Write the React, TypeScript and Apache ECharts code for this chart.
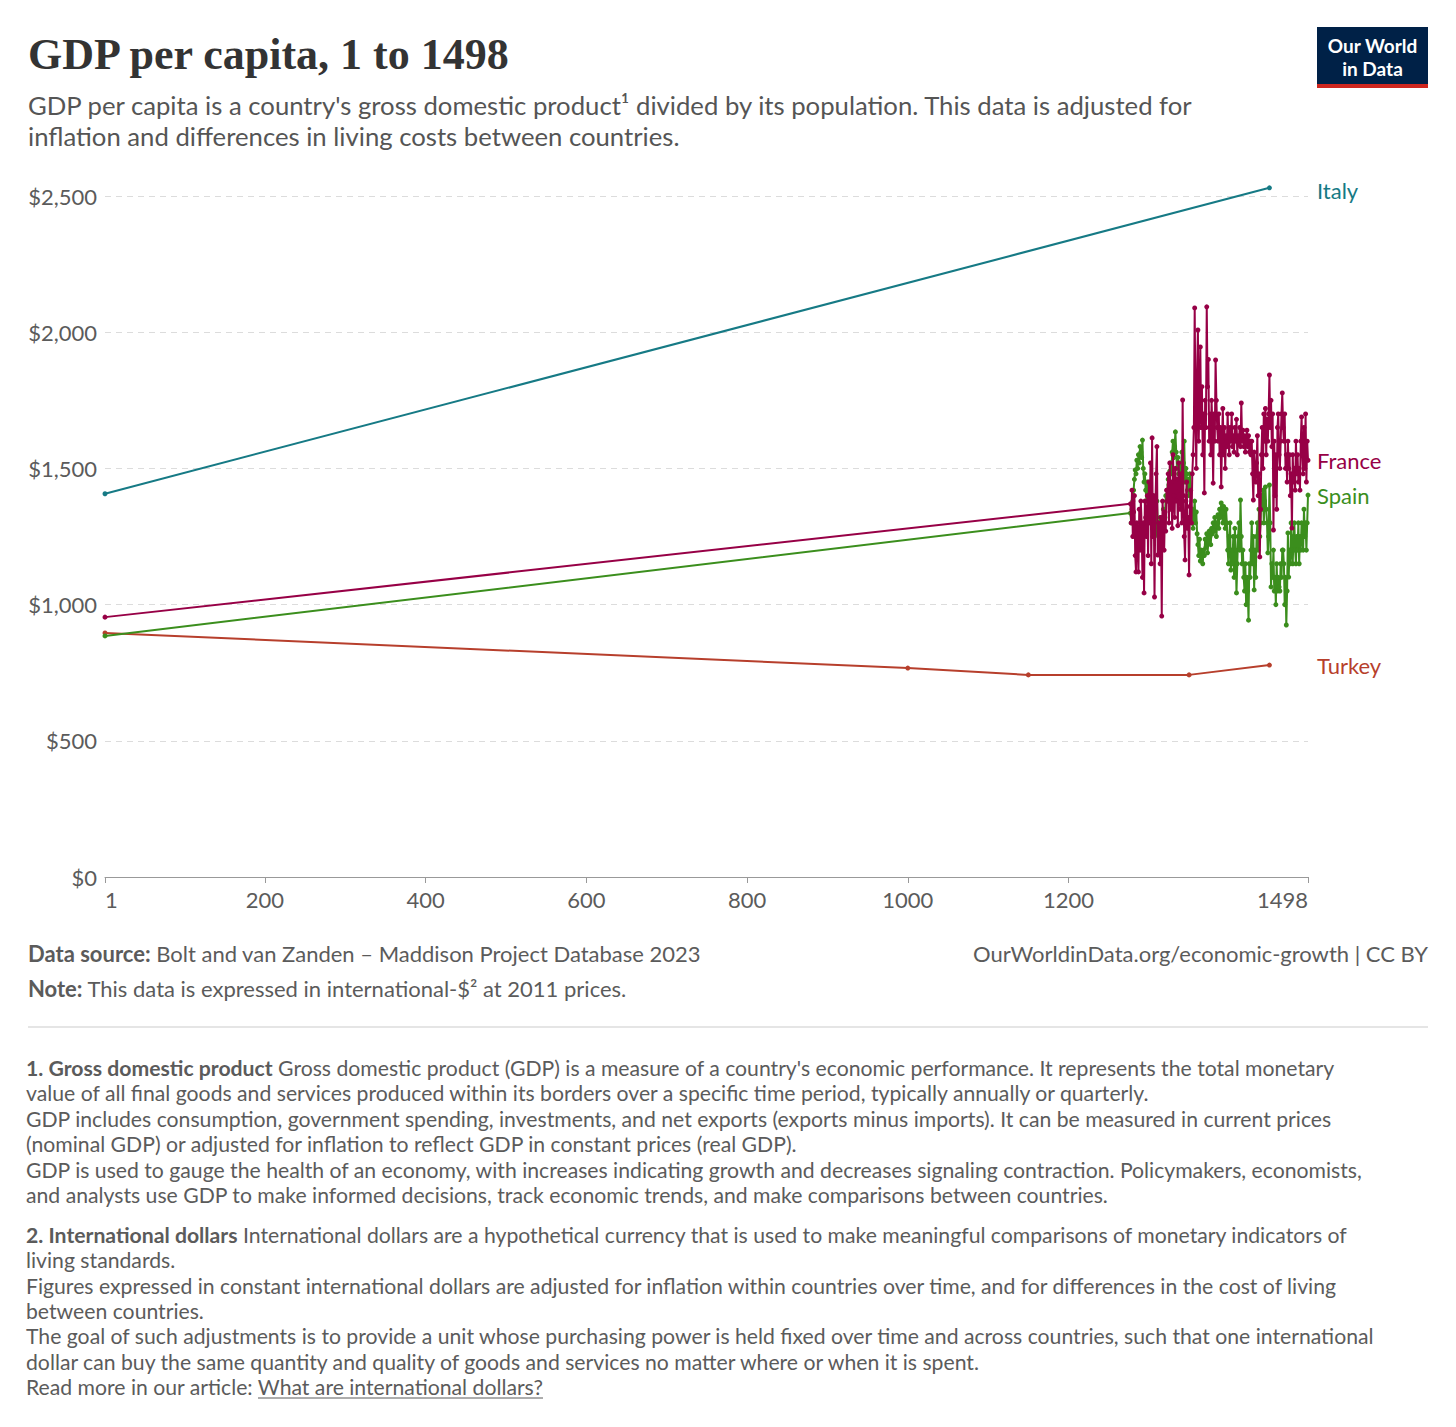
import React, { useEffect, useRef } from "react";
import * as echarts from "echarts";

const X_TICKS = [1, 200, 400, 600, 800, 1000, 1200, 1498];

const ITALY_YEARS = [1, 1450];
const ITALY_GDP = [1407, 2530];

const TURKEY_YEARS = [1, 1000, 1150, 1350, 1450];
const TURKEY_GDP = [896, 767, 742, 742, 778];

const FRANCE_YEAR1 = 954;
const SPAIN_YEAR1 = 885;
const ANNUAL_START = 1277;

const FRANCE_ANNUAL = [
  1370, 1300, 1420, 1250, 1340, 1400, 1180, 1120, 1300, 1260,
  1120, 1350, 1200, 1380, 1290, 1100, 1300, 1043, 1380, 1320,
  1250, 1400, 1180, 1450, 1300, 1520, 1150, 1612, 1250, 1400,
  1028, 1350, 1480, 1580, 1182, 1300, 1250, 1150, 1320, 958,
  1380, 1310, 1200, 1340, 1270, 1420, 1380, 1480, 1300, 1520,
  1350, 1450, 1280, 1550, 1400, 1320, 1500, 1380, 1460, 1290,
  1520, 1420, 1350, 1480, 1300, 1751, 1400, 1250, 1164, 1380,
  1450, 1280, 1320, 1109, 1360, 1420, 1300, 1480, 1550, 1650,
  2089, 1700, 1500, 1850, 2008, 1600, 1750, 1946, 1650, 1800,
  1550, 1700, 1410, 1750, 1650, 2093, 1800, 1900, 1600, 1700,
  1550, 1750, 1650, 1446, 1700, 1600, 1898, 1750, 1650, 1600,
  1700, 1550, 1650, 1432, 1600, 1720, 1550, 1650, 1500, 1620,
  1580, 1700, 1600, 1550, 1650, 1600, 1700, 1580, 1620, 1560,
  1650, 1600, 1680, 1550, 1620, 1590, 1650, 1580, 1740, 1600,
  1640, 1580, 1620, 1560, 1600, 1640, 1580, 1620, 1560, 1600,
  1550, 1600, 1480, 1384, 1560, 1500, 1450, 1520, 1620, 1400,
  1480, 1175, 1350, 1550, 1650, 1500, 1700, 1600, 1720, 1550,
  1680, 1600, 1700, 1843, 1650, 1750, 1580, 1700, 1274, 1600,
  1400, 1550, 1350, 1650, 1700, 1550, 1500, 1600, 1700, 1777,
  1650, 1600, 1700, 1500, 1550, 1450, 1600, 1500, 1550, 1400,
  1480, 1281, 1550, 1450, 1500, 1420, 1600, 1480, 1550, 1450,
  1500, 1420, 1600, 1689, 1550, 1480, 1650, 1500, 1700, 1450,
  1600, 1530,
];

const SPAIN_ANNUAL = [
  1336, 1300, 1350, 1380, 1420, 1460, 1494, 1480, 1530, 1500,
  1550, 1520, 1580, 1560, 1540, 1604, 1500, 1450, 1480, 1420,
  1380, 1450, 1400, 1350, 1420, 1380, 1320, 1350, 1300, 1280,
  1330, 1300, 1260, 1380, 1300, 1250, 1280, 1320, 1250, 1300,
  1280, 1350, 1300, 1320, 1400, 1380, 1420, 1460, 1440, 1490,
  1520, 1480, 1560, 1600, 1540, 1580, 1634, 1560, 1500, 1540,
  1480, 1520, 1460, 1500, 1560, 1480, 1520, 1600, 1450, 1500,
  1480, 1420, 1460, 1400, 1480, 1420, 1300, 1350, 1280, 1336,
  1380, 1300, 1340, 1260, 1220, 1180, 1240, 1160, 1200, 1175,
  1150, 1200, 1180, 1240, 1210, 1260, 1190, 1230, 1270, 1250,
  1220, 1280, 1260, 1300, 1270, 1320, 1290, 1250, 1300, 1330,
  1280, 1350, 1320, 1373, 1340, 1300, 1360, 1320, 1280, 1350,
  1300, 1200, 1150, 1250, 1300, 1127, 1200, 1150, 1250, 1100,
  1280, 1200, 1043, 1150, 1250, 1300, 1200, 1384, 1250, 1150,
  1200, 1100, 1050, 1150, 1000, 1100, 1050, 943, 1150, 1100,
  1200, 1300, 1150, 1250, 1054, 1200, 1100, 1250, 1300, 1200,
  1350, 1250, 1300, 1400, 1350, 1420, 1300, 1380, 1432, 1350,
  1300, 1190, 1250, 1439, 1300, 1065, 1150, 1100, 1200, 1050,
  1100, 1000, 1150, 1050, 1100, 1065, 1050, 1150, 1100, 1200,
  1200, 1150, 1000, 1100, 925, 1050, 1263, 1101, 1200, 1150,
  1300, 1200, 1150, 1250, 1300, 1200, 1150, 1250, 1200, 1300,
  1150, 1250, 1200, 1300, 1250, 1200, 1350, 1250, 1300, 1200,
  1300, 1402,
];

const COLORS = {
  Italy: "#167a85",
  France: "#970046",
  Spain: "#3b8e1d",
  Turkey: "#b73f2c",
};

const FONT = 'Lato, "Noto Sans", sans-serif';
const TEXT_GREY = "#5b5b5b";

const FOOTNOTES_1 = [
  "{b|1. Gross domestic product} Gross domestic product (GDP) is a measure of a country's economic performance. It represents the total monetary",
  "value of all final goods and services produced within its borders over a specific time period, typically annually or quarterly.",
  "GDP includes consumption, government spending, investments, and net exports (exports minus imports). It can be measured in current prices",
  "(nominal GDP) or adjusted for inflation to reflect GDP in constant prices (real GDP).",
  "GDP is used to gauge the health of an economy, with increases indicating growth and decreases signaling contraction. Policymakers, economists,",
  "and analysts use GDP to make informed decisions, track economic trends, and make comparisons between countries.",
];
const FOOTNOTES_2 = [
  "{b|2. International dollars} International dollars are a hypothetical currency that is used to make meaningful comparisons of monetary indicators of",
  "living standards.",
  "Figures expressed in constant international dollars are adjusted for inflation within countries over time, and for differences in the cost of living",
  "between countries.",
  "The goal of such adjustments is to provide a unit whose purchasing power is held fixed over time and across countries, such that one international",
  "dollar can buy the same quantity and quality of goods and services no matter where or when it is spent.",
  "Read more in our article: What are international dollars?",
];

function pairs(xs: number[], ys: number[]) {
  return xs.map((x, i) => [x, ys[i]]);
}
function annual(first: number, vals: number[]) {
  return [[1, first], ...vals.map((v, i) => [ANNUAL_START + i, v])];
}

function txt(id: string, x: number, y: number, text: string, extra: any = {}) {
  return {
    type: "text",
    id,
    x,
    y,
    silent: true,
    style: {
      text,
      fontFamily: FONT,
      fontSize: 21,
      fill: TEXT_GREY,
      align: "left",
      verticalAlign: "middle",
      ...extra,
    },
  };
}

export default function App() {
  const ref = useRef<HTMLDivElement>(null);

  useEffect(() => {
    if (!ref.current) return;
    const chart = echarts.init(ref.current, null, { renderer: "svg" });

    const lineSeries = (name: string, data: number[][], z: number) => ({
      name,
      type: "line",
      data,
      symbol: "circle",
      symbolSize: 5,
      showSymbol: true,
      clip: false,
      z,
      lineStyle: { width: 2, color: (COLORS as any)[name] },
      itemStyle: { color: (COLORS as any)[name] },
      emphasis: { disabled: true },
    });

    const bold = (size: number) => ({
      b: { fontWeight: "bold", fontFamily: FONT, fontSize: size, fill: TEXT_GREY },
    });

    const graphics: any[] = [
      txt("title", 28, 54, "GDP per capita, 1 to 1498", {
        fontFamily: '"Liberation Serif", "DejaVu Serif", serif',
        fontWeight: "bold",
        fontSize: 44,
        fill: "#333333",
      }),
      txt(
        "sub1",
        28,
        105,
        "GDP per capita is a country's gross domestic product\u00b9 divided by its population. This data is adjusted for",
        { fontSize: 25.7, fill: "#555555" }
      ),
      txt("sub2", 28, 136, "inflation and differences in living costs between countries.", {
        fontSize: 25.7,
        fill: "#555555",
      }),
      {
        type: "rect",
        id: "logoBg",
        shape: { x: 1317, y: 27, width: 111, height: 61 },
        style: { fill: "#002147" },
        silent: true,
      },
      {
        type: "rect",
        id: "logoBar",
        shape: { x: 1317, y: 84, width: 111, height: 4 },
        style: { fill: "#ce261e" },
        silent: true,
      },
      txt("logo1", 1372.5, 45, "Our World", {
        fill: "#ffffff",
        align: "center",
        fontSize: 19,
        fontWeight: "bold",
      }),
      txt("logo2", 1372.5, 68, "in Data", {
        fill: "#ffffff",
        align: "center",
        fontSize: 19,
        fontWeight: "bold",
      }),
      txt(
        "src",
        28,
        953,
        "{b|Data source:} Bolt and van Zanden \u2013 Maddison Project Database 2023",
        { fontSize: 22, rich: bold(22) }
      ),
      txt("url", 1428, 953, "OurWorldinData.org/economic-growth | CC BY", {
        fontSize: 22,
        align: "right",
      }),
      txt("note", 28, 988, "{b|Note:} This data is expressed in international-$\u00b2 at 2011 prices.", {
        fontSize: 22,
        rich: bold(22),
      }),
      {
        type: "line",
        id: "rule",
        shape: { x1: 28, y1: 1027, x2: 1428, y2: 1027 },
        style: { stroke: "#dddddd", lineWidth: 1.5 },
        silent: true,
      },
      {
        type: "line",
        id: "linkUnderline",
        shape: { x1: 258, y1: 1398, x2: 543, y2: 1398 },
        style: { stroke: "#5b5b5b", lineWidth: 1 },
        silent: true,
      },
    ];
    FOOTNOTES_1.forEach((t, i) =>
      graphics.push(txt("fn1_" + i, 26, 1068 + i * 25.4, t, { fontSize: 21.2, rich: bold(21.2) }))
    );
    FOOTNOTES_2.forEach((t, i) =>
      graphics.push(txt("fn2_" + i, 26, 1235 + i * 25.3, t, { fontSize: 21.2, rich: bold(21.2) }))
    );

    chart.setOption({
      animation: false,
      backgroundColor: "#ffffff",
      grid: { left: 105, right: 148, top: 196, bottom: 550, containLabel: false },
      xAxis: {
        type: "value",
        min: 1,
        max: 1498,
        axisLine: { show: true, lineStyle: { color: "#999999", width: 1 } },
        axisTick: {
          show: true,
          customValues: X_TICKS,
          length: 6,
          lineStyle: { color: "#999999" },
        },
        axisLabel: {
          customValues: X_TICKS,
          fontFamily: FONT,
          fontSize: 22,
          color: TEXT_GREY,
          margin: 11,
          alignMinLabel: "left",
          alignMaxLabel: "right",
          formatter: (v: number) => String(v),
        },
        splitLine: { show: false },
      },
      yAxis: {
        type: "value",
        min: 0,
        max: 2500,
        interval: 500,
        axisLine: { show: false },
        axisTick: { show: false },
        axisLabel: {
          fontFamily: FONT,
          fontSize: 22,
          color: TEXT_GREY,
          margin: 8,
          formatter: (v: number) => "$" + v.toLocaleString("en-US"),
        },
        splitLine: {
          show: true,
          lineStyle: { color: "#dcdcdc", type: [6, 5], width: 1 },
        },
      },
      series: [
        lineSeries("Italy", pairs(ITALY_YEARS, ITALY_GDP), 2),
        lineSeries("Turkey", pairs(TURKEY_YEARS, TURKEY_GDP), 2),
        lineSeries("Spain", annual(SPAIN_YEAR1, SPAIN_ANNUAL), 3),
        lineSeries("France", annual(FRANCE_YEAR1, FRANCE_ANNUAL), 4),
      ],
      graphic: graphics,
    });

    const lastVals: [string, number][] = [
      ["Italy", ITALY_GDP[ITALY_GDP.length - 1]],
      ["France", FRANCE_ANNUAL[FRANCE_ANNUAL.length - 1]],
      ["Spain", SPAIN_ANNUAL[SPAIN_ANNUAL.length - 1]],
      ["Turkey", TURKEY_GDP[TURKEY_GDP.length - 1]],
    ];
    const labelEls = lastVals.map(([name, v]) => {
      const p = chart.convertToPixel({ xAxisIndex: 0, yAxisIndex: 0 }, [1498, v]) as number[];
      return txt("lbl_" + name, p[0] + 9, p[1] + (name === "Italy" ? 3 : 0), name, {
        fontSize: 22,
        fill: (COLORS as any)[name],
      });
    });
    chart.setOption({ graphic: labelEls });

    return () => chart.dispose();
  }, []);

  return (
    <div
      ref={ref}
      style={{ position: "absolute", left: 0, top: 0, width: 1456, height: 1427 }}
    />
  );
}
